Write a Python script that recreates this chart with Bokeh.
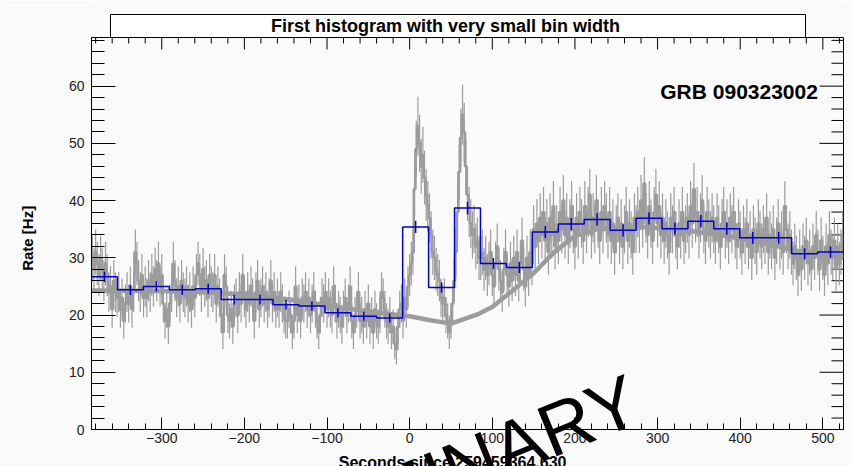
import numpy as np
from bokeh.plotting import figure
from bokeh.models import Range1d, LinearAxis, SingleIntervalTicker
from bokeh.layouts import column
from bokeh.embed import file_html
from bokeh.resources import INLINE
from bokeh.core.properties import value

# ---- data -----------------------------------------------------------------
T_START, T_END = -385.0, 525.0          # histogram range [s]
RATE_MAX = 68.5                         # top of the rate axis [Hz]
FINE_WIDTH = 2.0                        # fine bin width [s]
N_COARSE = 29                           # number of rebinned bins

# fine-binned light curve [Hz], 2 s bins starting at T_START
fine_rate = [
    30, 28, 31, 29, 27, 30, 28, 26, 29, 27, 24, 25, 21, 26, 24, 23,
    24, 21, 23, 19, 22, 24, 22, 25, 21, 24, 31, 29, 26, 24, 27, 23,
    25, 23, 26, 24, 27, 25, 28, 26, 29, 25, 27, 22, 19, 21, 18, 22,
    24, 29, 26, 23, 25, 22, 26, 24, 23, 25, 22, 24, 21, 25, 23, 27,
    29, 27, 24, 28, 25, 26, 23, 27, 25, 24, 27, 22, 25, 23, 20, 17,
    27, 25, 20, 19, 21, 18, 22, 23, 20, 24, 22, 27, 23, 21, 24, 22,
    25, 23, 19, 24, 26, 21, 23, 25, 22, 24, 21, 23, 26, 22, 24, 21,
    23, 21, 24, 22, 20, 19, 19, 21, 20, 17, 19, 25, 20, 22, 19, 23,
    22, 24, 21, 23, 20, 22, 24, 21, 19, 17, 20, 23, 22, 24, 21, 23,
    21, 20, 25, 22, 19, 21, 20, 18, 21, 23, 20, 22, 25, 19, 17, 20,
    21, 24, 19, 20, 18, 21, 19, 22, 18, 20, 17, 21, 19, 18, 20, 24,
    23, 21, 19, 18, 20, 17, 18, 15, 14, 18, 21, 22, 19, 23, 21, 25,
    27, 29, 31, 42, 49, 53, 50, 46, 48, 44, 41, 39, 37, 34, 31, 30,
    28, 27, 26, 23, 22, 23, 20, 19, 17, 19, 22, 26, 31, 38, 45, 51,
    55, 52, 46, 41, 38, 36, 34, 35, 32, 33, 30, 30, 31, 28, 30, 27,
    29, 31, 27, 25, 29, 32, 28, 26, 24, 28, 31, 27, 25, 29, 26, 30,
    27, 31, 26, 29, 33, 28, 25, 30, 27, 31, 29, 35, 32, 36, 33, 37,
    34, 38, 33, 36, 31, 37, 34, 39, 32, 35, 33, 38, 35, 40, 34, 37,
    33, 36, 39, 35, 32, 37, 34, 38, 36, 33, 39, 35, 38, 41, 34, 37,
    35, 40, 36, 33, 38, 35, 39, 37, 34, 38, 33, 36, 31, 35, 37, 33,
    36, 32, 35, 38, 33, 36, 34, 31, 37, 35, 38, 35, 40, 36, 43, 37,
    34, 39, 36, 33, 38, 41, 36, 39, 34, 37, 33, 36, 34, 31, 37, 35,
    38, 34, 32, 36, 34, 38, 33, 35, 37, 34, 39, 36, 42, 37, 38, 34,
    37, 40, 35, 33, 38, 36, 34, 37, 35, 33, 37, 35, 32, 36, 38, 34,
    36, 33, 37, 35, 38, 34, 32, 36, 34, 31, 35, 33, 36, 32, 34, 30,
    35, 33, 31, 36, 34, 32, 35, 33, 37, 31, 34, 32, 35, 30, 33, 36,
    32, 34, 31, 39, 35, 32, 34, 31, 29, 32, 30, 27, 31, 28, 32, 30,
    33, 29, 31, 28, 32, 30, 34, 31, 28, 33, 30, 27, 32, 29, 34, 31,
    30, 33, 28, 32, 29, 31, 34,
]

# rebinned light curve [Hz]
coarse_rate = [26.7, 24.4, 25.0, 24.4, 24.6, 22.7, 22.7, 21.8, 21.6, 20.4,
               19.8, 19.5, 35.4, 24.8, 38.7, 29.0, 28.3, 34.5, 35.9, 36.7,
               34.8, 36.9, 35.1, 36.4, 35.1, 33.5, 33.5, 30.7, 31.0]

# background model
bg_time = [-385, -300, -250, -200, -150, -100, -50, 0, 25, 50, 82, 100, 122,
           150, 175, 200, 227, 250, 284, 320, 344, 375, 404, 435, 465, 495, 525]
bg_rate = [24.3, 24.2, 24.0, 23.6, 22.8, 21.7, 20.6, 19.8, 19.1, 18.5, 20.1,
           21.4, 24.0, 27.3, 31.0, 33.8, 35.0, 35.3, 35.4, 35.0, 34.6, 34.0,
           33.3, 32.4, 31.3, 30.6, 30.0]

TITLE = "First histogram with very small bin width"
GRB_NAME = "GRB 090323002"
X_TITLE = "Seconds since 259459364.630"
Y_TITLE = "Rate [Hz]"
WATERMARK = "PRELIMINARY"

# ---- derived quantities ---------------------------------------------------
fine = np.array(fine_rate, dtype=float)
fine_t = T_START + FINE_WIDTH * (np.arange(len(fine)) + 0.5)
fine_err = np.sqrt(fine / FINE_WIDTH)

coarse = np.array(coarse_rate)
edges = np.linspace(T_START, T_END, N_COARSE + 1)
coarse_w = edges[1] - edges[0]
coarse_t = 0.5 * (edges[:-1] + edges[1:])
coarse_err = np.sqrt(coarse / coarse_w)

# ---- geometry & style -----------------------------------------------------
W, H_TOP, H_MAIN = 852, 37, 429
BORDER_L, BORDER_R, BORDER_B = 91, 9, 37
FRAME_W = W - BORDER_L - BORDER_R
FRAME_H = H_MAIN - BORDER_B
PX_X = FRAME_W / (T_END - T_START)      # pixels per second
PX_Y = FRAME_H / RATE_MAX               # pixels per Hz

BG = "#fafafa"
GREY = "#9c9c9c"
BLUE = "#0000d0"
FONT = "Liberation Sans"

# ---- title strip ----------------------------------------------------------
top = figure(width=W, height=H_TOP, x_range=Range1d(BORDER_L, W - BORDER_R),
             y_range=Range1d(0, H_TOP), output_backend="svg", toolbar_location=None,
             x_axis_location=None, y_axis_location=None, min_border=0,
             min_border_left=BORDER_L, min_border_right=BORDER_R,
             background_fill_color=BG, border_fill_color=BG, outline_line_color=None)
top.grid.visible = False
top.quad(left=110, right=805, bottom=0, top=23, fill_color="white",
         line_color="black", line_width=1)
top.text(x=[445], y=[12], text=[TITLE], text_align="center", text_baseline="middle",
         text_font=value(FONT), text_font_style="bold", text_font_size="18px",
         text_color="black")

# ---- main plot ------------------------------------------------------------
p = figure(width=W, height=H_MAIN, x_range=Range1d(T_START, T_END),
           y_range=Range1d(0, RATE_MAX), output_backend="svg", toolbar_location=None,
           x_axis_location=None, y_axis_location=None,
           min_border_left=BORDER_L, min_border_right=BORDER_R, min_border_top=0,
           min_border_bottom=BORDER_B,
           background_fill_color=BG, border_fill_color=BG,
           outline_line_color="black", outline_line_width=1)
p.grid.visible = False


def root_axis(ticker, major_in, minor_in, standoff):
    return LinearAxis(ticker=ticker, major_tick_in=major_in, major_tick_out=0,
                      minor_tick_in=minor_in, minor_tick_out=0,
                      axis_line_color="black", major_tick_line_color="black",
                      minor_tick_line_color="black", major_label_standoff=standoff,
                      major_label_text_font=FONT, major_label_text_font_size="14px",
                      major_label_text_color="#222222")


p.add_layout(root_axis(SingleIntervalTicker(interval=100, num_minor_ticks=5), 12, 6, 3),
             "below")
p.add_layout(root_axis(SingleIntervalTicker(interval=10, num_minor_ticks=5), 24, 13, 7),
             "left")

# mirrored tick marks on the top and right edges of the frame
x_major = np.arange(-300, T_END, 100)
x_minor = np.array([t for t in np.arange(-380, T_END, 20) if t % 100 != 0])
y_major = np.arange(0, RATE_MAX, 10)
y_minor = np.array([r for r in np.arange(2, RATE_MAX, 2) if r % 10 != 0])
for xs, length in ((x_major, 12), (x_minor, 6)):
    p.segment(x0=xs, y0=RATE_MAX, x1=xs, y1=RATE_MAX - length / PX_Y,
              line_color="black", line_width=1)
for ys, length in ((y_major, 24), (y_minor, 12)):
    p.segment(x0=T_END, y0=ys, x1=T_END - length / PX_X, y1=ys,
              line_color="black", line_width=1)

# fine histogram with error bars
p.segment(x0=fine_t, y0=fine - fine_err, x1=fine_t, y1=fine + fine_err,
          line_color=GREY, line_width=1.2)
p.step(x=fine_t, y=fine, mode="center", line_color=GREY, line_width=2.6)

# background model
p.line(x=bg_time, y=bg_rate, line_color=GREY, line_width=4.5, line_join="round")

# rebinned histogram
p.step(x=edges, y=np.append(coarse, coarse[-1]), mode="after",
       line_color=BLUE, line_width=1.5)
p.segment(x0=coarse_t, y0=coarse - coarse_err, x1=coarse_t, y1=coarse + coarse_err,
          line_color=BLUE, line_width=1.5)

# texts (axis titles and the watermark may extend past the frame)
p.text(x=[494], y=[59.1], text=[GRB_NAME], text_align="right", text_baseline="middle",
       text_font=value(FONT), text_font_style="bold", text_font_size="21px",
       text_color="black")
p.text(x=[52], y=[-5.8], text=[X_TITLE], text_align="center",
       text_baseline="alphabetic", text_font=value(FONT), text_font_style="bold",
       text_font_size="16px", text_color="black", level="overlay")
p.text(x=[-462.5], y=[33.4], text=[Y_TITLE], angle=90, angle_units="deg",
       text_align="center", text_baseline="middle", text_font=value(FONT),
       text_font_style="bold", text_font_size="15px", text_color="black",
       level="overlay")
p.text(x=[292], y=[-1.0], text=[WATERMARK], angle=22, angle_units="deg",
       text_align="right", text_baseline="bottom", text_font=value(FONT),
       text_font_size="74px", text_color="black", level="overlay")

layout = column(top, p, spacing=0)
open("out.html", "w").write(file_html(layout, INLINE))
